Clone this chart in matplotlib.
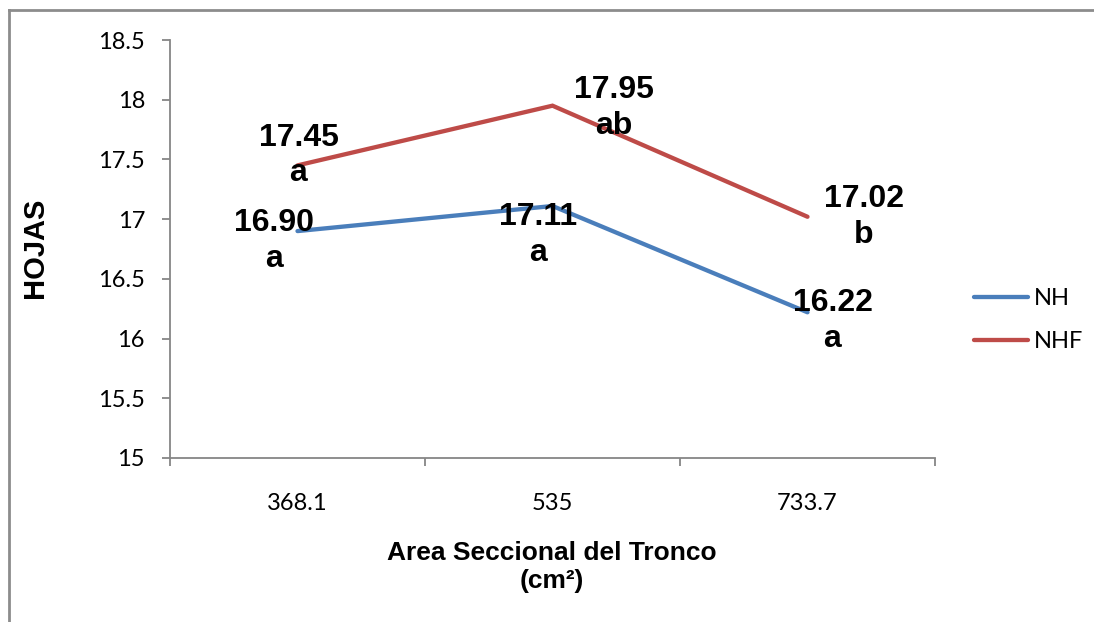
import matplotlib
matplotlib.use("Agg")
import matplotlib.pyplot as plt
from matplotlib.lines import Line2D

# Data
categories = ["368.1", "535", "733.7"]
nh_values = [16.90, 17.11, 16.22]
nhf_values = [17.45, 17.95, 17.02]
nh_letters = ["a", "a", "a"]
nhf_letters = ["a", "ab", "b"]
y_ticks = [15, 15.5, 16, 16.5, 17, 17.5, 18, 18.5]

# Styling
BLUE = "#4A7EBB"
RED = "#BE4B48"
AXIS_GREY = "#868686"
BOLD_FONT = "Liberation Sans"
TICK_FONT = "Lato"
# label offsets from each point, in pixels (dx, dy)
nh_offsets = [(-24, -10), (-14, -29), (25, -9)]
nhf_offsets = [(1, 10), (61, -2), (56, 0)]

fig = plt.figure(figsize=(10.94, 6.22), dpi=100)
ax = fig.add_axes([170 / 1094, 1 - 458 / 622, 765 / 1094, 418 / 622])

x = list(range(len(categories)))
ax.plot(x, nh_values, color=BLUE, lw=3.1, solid_capstyle="round",
        solid_joinstyle="miter", label="NH")
ax.plot(x, nhf_values, color=RED, lw=3.1, solid_capstyle="round",
        solid_joinstyle="miter", label="NHF")

for xi, v, let, off in zip(x, nh_values, nh_letters, nh_offsets):
    ax.annotate(f"{v:.2f}\n{let}", (xi, v), xytext=off, textcoords="offset pixels",
                ha="center", va="center", fontsize=23, fontweight="bold",
                family=BOLD_FONT, linespacing=1.25, annotation_clip=False)
for xi, v, let, off in zip(x, nhf_values, nhf_letters, nhf_offsets):
    ax.annotate(f"{v:.2f}\n{let}", (xi, v), xytext=off, textcoords="offset pixels",
                ha="center", va="center", fontsize=23, fontweight="bold",
                family=BOLD_FONT, linespacing=1.25, annotation_clip=False)

ax.set_xlim(-0.5, len(categories) - 0.5)
ax.set_ylim(15, 18.5)

# category boundaries as major ticks, labels centred on minor ticks
ax.set_xticks([i - 0.5 for i in range(len(categories) + 1)])
ax.set_xticklabels([])
ax.set_xticks(x, minor=True)
ax.set_xticklabels(categories, minor=True, fontsize=17, family=TICK_FONT)
ax.tick_params(axis="x", which="major", length=6, width=1.3, color=AXIS_GREY, direction="out")
ax.tick_params(axis="x", which="minor", length=0, pad=25)

ax.set_yticks(y_ticks)
ax.set_yticklabels([f"{t:g}" for t in y_ticks], fontsize=17, family=TICK_FONT)
ax.tick_params(axis="y", length=6, width=1.3, color=AXIS_GREY, direction="out", pad=12)

for side in ("top", "right"):
    ax.spines[side].set_visible(False)
for side in ("left", "bottom"):
    ax.spines[side].set_color(AXIS_GREY)
    ax.spines[side].set_linewidth(1.3)

fig.text(35 / 1094, 1 - 248 / 622, "HOJAS", rotation=90, ha="center", va="center",
         fontsize=21, fontweight="bold", family=BOLD_FONT)
fig.text(552 / 1094, 1 - 567 / 622, "Area Seccional del Tronco\n(cm²)",
         ha="center", va="center", multialignment="center", fontsize=19,
         fontweight="bold", family=BOLD_FONT, linespacing=1.2)

leg = fig.legend(loc="center left", bbox_to_anchor=(974 / 1094, 1 - 320 / 622),
                 frameon=False, prop={"family": TICK_FONT, "size": 17},
                 handlelength=2.3, handletextpad=0.25, labelspacing=0.95,
                 borderpad=0, borderaxespad=0)

# outer frame (top and left edges)
fig.add_artist(Line2D([8.5 / 1094, 1.0], [1 - 10 / 622, 1 - 10 / 622],
                      transform=fig.transFigure, color="#8C8C8C", lw=2))
fig.add_artist(Line2D([8.5 / 1094, 8.5 / 1094], [0.0, 1 - 10 / 622],
                      transform=fig.transFigure, color="#8C8C8C", lw=2))

fig.savefig("out.png", dpi=100)
